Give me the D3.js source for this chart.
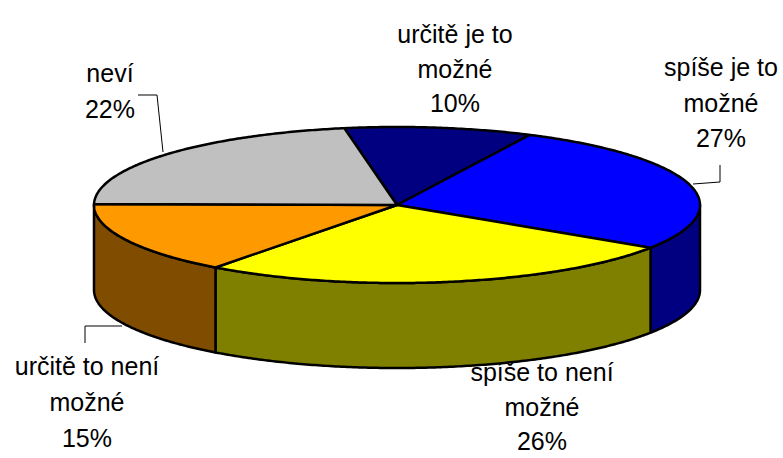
<!DOCTYPE html>
<meta charset="utf-8">
<style>
body {
  margin: 0;
  background: #fff;
}
.label {
  font-family: "Liberation Sans", Arial, sans-serif;
  font-size: 25px;
  fill: #000;
}
.slice {
  stroke: #000;
  stroke-width: 2.5;
  stroke-linejoin: round;
}
.leader {
  fill: none;
  stroke: #000;
  stroke-width: 1;
}
</style>
<body>
<svg width="783" height="458"></svg>
<script src="https://d3js.org/d3.v7.min.js"></script>
<script>

// slice order, clockwise from the top
var categories = ["určitě je to možné", "spíše je to možné", "spíše to není možné", "určitě to není možné", "neví"];
var values = [10, 27, 26, 15, 22];
var percentLabels = ["10%", "27%", "26%", "15%", "22%"];
var labelLines = [
  ["určitě je to", "možné", "10%"],
  ["spíše je to", "možné", "27%"],
  ["spíše to není", "možné", "26%"],
  ["určitě to není", "možné", "15%"],
  ["neví", "22%"]
];
var topColors = ["#000080", "#0000ff", "#ffff00", "#ff9900", "#c0c0c0"];
var sideColors = ["#000060", "#000080", "#808000", "#804c00", "#909090"];

var svg = d3.select("svg");

var cx = 397, cy = 205, rx = 303, ry = 78, depth = 85;
var startDeg = -10;

var pie = d3.pie()
    .sort(null)
    .startAngle(startDeg * Math.PI / 180)
    .endAngle((startDeg + 360) * Math.PI / 180);

var arcs = pie(values);

function pt(a, dy) {
  return [cx + rx * Math.sin(a), cy - ry * Math.cos(a) + (dy || 0)];
}

function arcPoints(a0, a1, dy) {
  var n = Math.max(2, Math.ceil(Math.abs(a1 - a0) / 0.01));
  return d3.range(n + 1).map(function(i) { return pt(a0 + (a1 - a0) * i / n, dy); });
}

var line = d3.line();

// label positions (centre x, first baseline, line height) and leader lines
var labelPos = [[455, 43, 34.5], [721, 76, 35.5], [542, 381, 34.5], [87, 375, 36], [110, 82, 36]];
var leaders = [
  null,
  [[720, 165], [720, 182], [693, 184]],
  null,
  [[85, 343], [85, 326], [122, 326]],
  [[138, 95], [157, 95], [163, 152]]
];

var labels = svg.append("g");
labelLines.forEach(function(lines, i) {
  var t = labels.append("text")
      .attr("class", "label")
      .attr("text-anchor", "middle");
  lines.forEach(function(s, j) {
    t.append("tspan")
        .attr("x", labelPos[i][0])
        .attr("y", labelPos[i][1] + j * labelPos[i][2])
        .text(s);
  });
  if (leaders[i]) {
    labels.append("path")
        .attr("class", "leader")
        .attr("d", line(leaders[i]));
  }
});

// front walls (only the part between 90 and 270 degrees is visible)
var front0 = Math.PI / 2, front1 = 3 * Math.PI / 2;
svg.append("g")
  .selectAll("path")
  .data(arcs.filter(function(d) { return d.endAngle > front0 && d.startAngle < front1; }))
  .enter().append("path")
    .attr("class", "slice")
    .attr("fill", function(d) { return sideColors[d.index]; })
    .attr("d", function(d) {
      var a0 = Math.max(d.startAngle, front0), a1 = Math.min(d.endAngle, front1);
      var pts = arcPoints(a0, a1, 0).concat(arcPoints(a1, a0, depth));
      return line(pts) + "Z";
    });

// top faces
svg.append("g")
  .selectAll("path")
  .data(arcs)
  .enter().append("path")
    .attr("class", "slice")
    .attr("fill", function(d) { return topColors[d.index]; })
    .attr("d", function(d) {
      var pts = [[cx, cy]].concat(arcPoints(d.startAngle, d.endAngle, 0));
      return line(pts) + "Z";
    })
  .append("title")
    .text(function(d) { return categories[d.index] + " " + percentLabels[d.index]; });

</script>
